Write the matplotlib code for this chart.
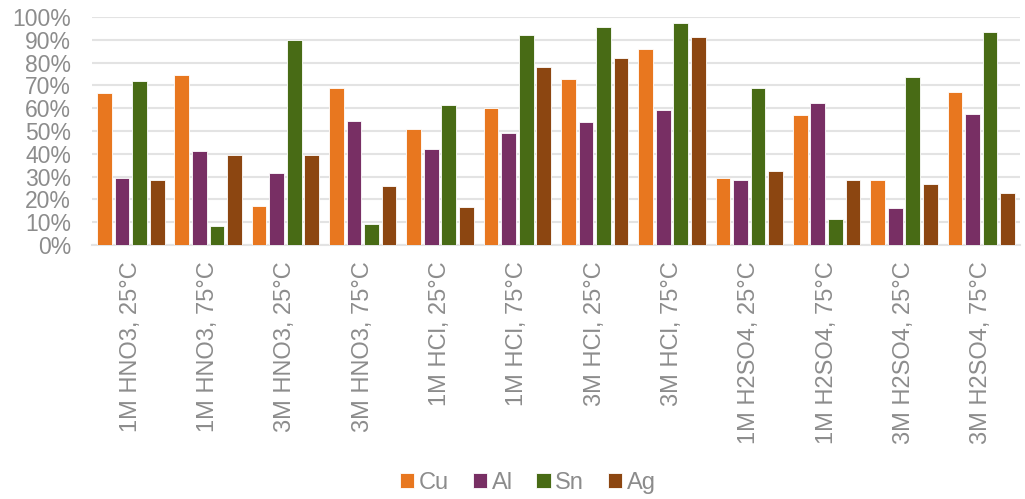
import matplotlib.pyplot as plt
import numpy as np

plt.rcParams['font.family'] = ['Liberation Sans', 'DejaVu Sans']

conditions = ["1M HNO3, 25°C", "1M HNO3, 75°C", "3M HNO3, 25°C", "3M HNO3, 75°C",
              "1M HCl, 25°C", "1M HCl, 75°C", "3M HCl, 25°C", "3M HCl, 75°C",
              "1M H2SO4, 25°C", "1M H2SO4, 75°C", "3M H2SO4, 25°C", "3M H2SO4, 75°C"]

cu = [66.7, 74.6, 17.0, 68.9, 50.7, 60.2, 73.0, 85.8, 29.2, 56.9, 28.4, 67.1]
al = [29.5, 41.1, 31.4, 54.2, 42.1, 49.1, 53.8, 59.4, 28.5, 62.1, 16.4, 57.5]
sn = [71.9, 8.3, 89.9, 9.4, 61.4, 92.0, 95.8, 97.5, 68.7, 11.5, 73.7, 93.4]
ag = [28.4, 39.3, 39.5, 25.7, 16.7, 77.9, 81.9, 91.1, 32.5, 28.4, 26.9, 22.7]

metals = ["Cu", "Al", "Sn", "Ag"]
colors = ["#E8771F", "#782F64", "#486B15", "#8C4611"]
grey = "#8C8C8C"

fig = plt.figure(figsize=(10.25, 4.99), dpi=100)
ax = fig.add_axes([0.0898, 0.509, 0.9053, 0.457])

x = np.arange(len(conditions))
pitch = 0.228
width = 0.19
for i, (vals, name, c) in enumerate(zip([cu, al, sn, ag], metals, colors)):
    ax.bar(x + (i - 1.5) * pitch, np.array(vals) / 100, width, color=c,
           edgecolor="white", linewidth=0.6, label=name, zorder=3)

ax.set_xlim(-0.5, len(conditions) - 0.5)
ax.set_ylim(0, 1.0)
ax.set_yticks(np.arange(0, 1.01, 0.1))
ax.set_yticklabels([f"{int(round(v * 100))}%" for v in np.arange(0, 1.01, 0.1)])
ax.set_xticks(x)
ax.set_xticklabels(conditions, rotation=90, va="top", ha="center")

ax.grid(axis="y", color="#E3E3E3", linewidth=1.5, zorder=0)
for s in ["top", "right", "left"]:
    ax.spines[s].set_visible(False)
ax.spines["bottom"].set_color("#E3E3E3")
ax.spines["bottom"].set_linewidth(1.5)
ax.tick_params(axis="both", length=0, colors=grey)
ax.tick_params(axis="x", pad=12, labelsize=17)
ax.tick_params(axis="y", pad=15, labelsize=16.5)

fig.legend(loc="center", bbox_to_anchor=(0.515, 0.032), ncol=4, frameon=False,
           fontsize=17, labelcolor=grey, handlelength=0.6, handleheight=0.6,
           handletextpad=0.2, columnspacing=1.0)

fig.savefig("out.png", dpi=100)
